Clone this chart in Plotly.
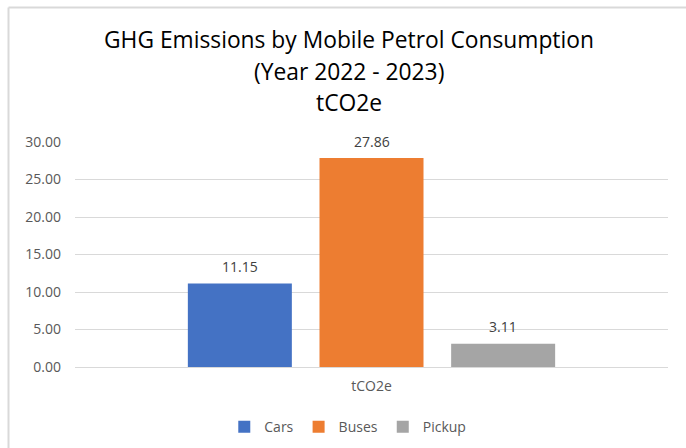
import plotly.graph_objects as go

# Emissions data (tCO2e) for year 2022-2023
category = ["tCO2e"]
series_names = ["Cars", "Buses", "Pickup"]
series_values = [11.15, 27.86, 3.11]
series_colors = ["#4472C4", "#ED7D31", "#A5A5A5"]
y_ticks = [0, 5, 10, 15, 20, 25, 30]

title_lines = [
    "GHG Emissions by Mobile Petrol Consumption",
    "(Year 2022 - 2023)",
    "tCO2e",
]

FONT = "Open Sans"
TEXT_GREY = "#595959"
GRID = "#D9D9D9"

BARGAP = 0.334
BARGROUPGAP = 0.21

fig = go.Figure()
for name, val, col in zip(series_names, series_values, series_colors):
    fig.add_trace(go.Bar(
        x=category, y=[val], name=name,
        marker=dict(color=col, line=dict(width=0)),
        hoverinfo="skip",
    ))

# value labels above each bar
slot = (1 - BARGAP) / len(series_names)
for i, val in enumerate(series_values):
    fig.add_annotation(
        x=(i - (len(series_names) - 1) / 2) * slot, y=val,
        xref="x", yref="y", text=f"{val:.2f}", showarrow=False,
        yanchor="middle", yshift=17,
        font=dict(family=FONT, size=14, color="#404040"),
    )

# three-line chart title
for txt, yp in zip(title_lines, [1.457, 1.315, 1.177]):
    fig.add_annotation(
        x=0.462, y=yp, xref="paper", yref="paper", text=txt, showarrow=False,
        xanchor="center", yanchor="middle",
        font=dict(family=FONT, size=22.8, color="#000000"),
    )

# chart area frame (top and left edges)
fig.add_shape(type="line", xref="paper", yref="paper",
              x0=(8.5 - 75) / 593, x1=(690 - 75) / 593,
              y0=(367 - 7.5) / 225, y1=(367 - 7.5) / 225,
              line=dict(color="#D9D9D9", width=2))
fig.add_shape(type="line", xref="paper", yref="paper",
              x0=(8.5 - 75) / 593, x1=(8.5 - 75) / 593,
              y0=(367 - 7.5) / 225, y1=(367 - 452) / 225,
              line=dict(color="#D9D9D9", width=2))

fig.update_layout(
    width=686, height=448,
    margin=dict(l=75, r=18, t=142, b=81, autoexpand=False),
    paper_bgcolor="white", plot_bgcolor="white",
    barmode="group", bargap=BARGAP, bargroupgap=BARGROUPGAP,
    font=dict(family=FONT, size=14, color=TEXT_GREY),
    showlegend=True,
    legend=dict(
        orientation="h", x=0.46, xanchor="center", y=-0.267, yanchor="middle",
        font=dict(family=FONT, size=14, color=TEXT_GREY),
        itemwidth=30, traceorder="normal",
    ),
    xaxis=dict(
        showgrid=False, showline=True, linecolor=GRID, linewidth=1,
        ticks="", tickfont=dict(family=FONT, size=14, color=TEXT_GREY),
        ticklabelstandoff=6, fixedrange=True,
    ),
    yaxis=dict(
        range=[0, 30], tickvals=y_ticks, tickformat=".2f",
        showgrid=True, gridcolor=GRID, gridwidth=1,
        zeroline=False, showline=False, ticks="",
        tickfont=dict(family=FONT, size=14, color=TEXT_GREY),
        ticklabelstandoff=13, fixedrange=True,
    ),
)

fig.write_html("out.html")
